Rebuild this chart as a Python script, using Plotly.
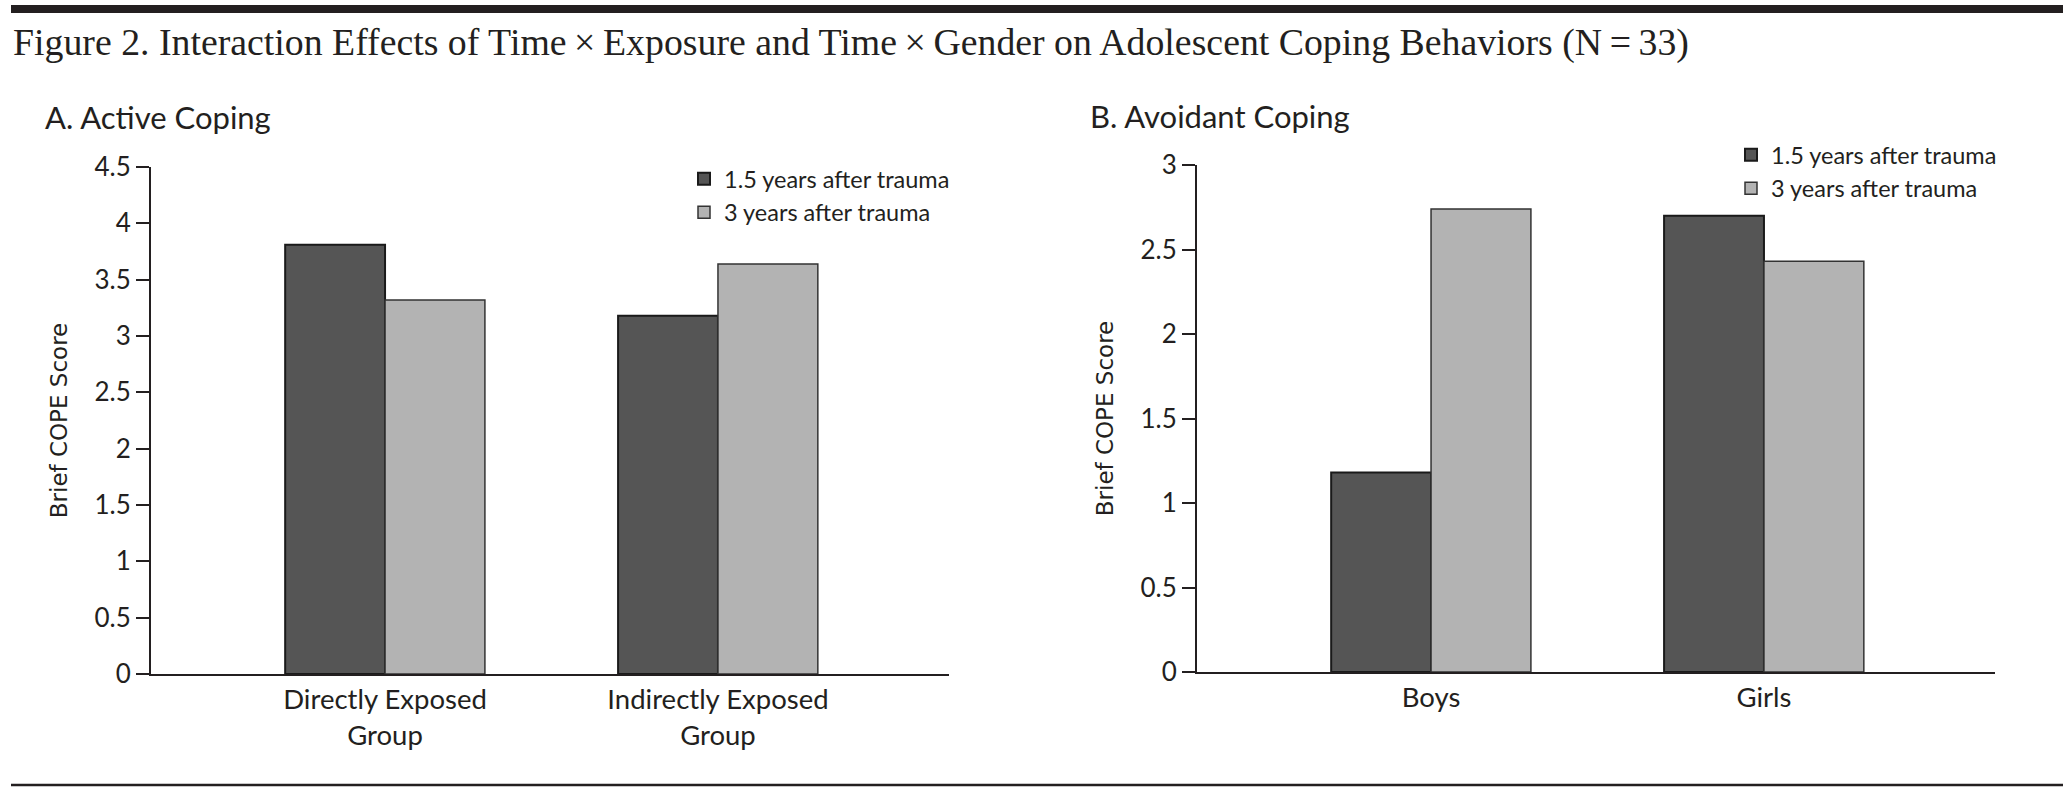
import plotly.graph_objects as go

# ---------------- data ----------------
series_names = ["1.5 years after trauma", "3 years after trauma"]

active_groups = ["Directly Exposed<br>Group", "Indirectly Exposed<br>Group"]
active_15y = [3.81, 3.18]
active_3y = [3.32, 3.64]

avoid_groups = ["Boys", "Girls"]
avoid_15y = [1.18, 2.70]
avoid_3y = [2.74, 2.43]

active_ticks = [0, 0.5, 1, 1.5, 2, 2.5, 3, 3.5, 4, 4.5]
avoid_ticks = [0, 0.5, 1, 1.5, 2, 2.5, 3]

# ---------------- styling ----------------
W, H = 2063, 792
DARK = "#555555"
LIGHT = "#b3b3b3"
INK = "#231f20"
SANS = "Lato, 'Noto Sans', sans-serif"
SERIF = "'Liberation Serif', 'DejaVu Serif', serif"


def px(x):
    return x / W


def py(y):
    return 1 - y / H


fig = go.Figure()

fig.add_trace(go.Bar(x=active_groups, y=active_15y, name=series_names[0],
                     marker=dict(color=DARK, line=dict(color="#1a1a1a", width=2)),
                     xaxis="x", yaxis="y", legend="legend"))
fig.add_trace(go.Bar(x=active_groups, y=active_3y, name=series_names[1],
                     marker=dict(color=LIGHT, line=dict(color="#333333", width=1.5)),
                     xaxis="x", yaxis="y", legend="legend"))
fig.add_trace(go.Bar(x=avoid_groups, y=avoid_15y, name=series_names[0],
                     marker=dict(color=DARK, line=dict(color="#1a1a1a", width=2)),
                     xaxis="x2", yaxis="y2", legend="legend2"))
fig.add_trace(go.Bar(x=avoid_groups, y=avoid_3y, name=series_names[1],
                     marker=dict(color=LIGHT, line=dict(color="#333333", width=1.5)),
                     xaxis="x2", yaxis="y2", legend="legend2"))

xcommon = dict(type="category", range=[-0.703, 1.694], showline=True,
               linecolor=INK, linewidth=2, ticks="", showgrid=False,
               zeroline=False, automargin=False,
               tickfont=dict(family=SANS, size=27.5, color=INK),
               fixedrange=True)
ycommon = dict(showline=True, linecolor=INK, linewidth=2, ticks="outside",
               ticklen=13, tickwidth=2, tickcolor=INK, showgrid=False,
               zeroline=False, automargin=False,
               tickfont=dict(family=SANS, size=26, color=INK),
               title=dict(text="Brief COPE Score",
                          font=dict(family="'DejaVu Sans', Verdana, sans-serif",
                                    size=23, color=INK),
                          standoff=20),
               fixedrange=True)

fig.update_layout(
    width=W, height=H, autosize=False,
    margin=dict(l=0, r=0, t=0, b=0, pad=0, autoexpand=False),
    paper_bgcolor="white", plot_bgcolor="white",
    barmode="group", bargap=0.4, bargroupgap=0,
    xaxis=dict(xcommon, domain=[px(151), px(949)], anchor="y"),
    yaxis=dict(ycommon, domain=[py(674), py(167)], anchor="x",
               range=[0, 4.5], tickvals=active_ticks,
               ticktext=[f"{v:g}" for v in active_ticks]),
    xaxis2=dict(xcommon, domain=[px(1197), px(1995)], anchor="y2"),
    yaxis2=dict(ycommon, domain=[py(672), py(165)], anchor="x2",
                range=[0, 3], tickvals=avoid_ticks,
                ticktext=[f"{v:g}" for v in avoid_ticks]),
    legend=dict(x=px(684), y=py(157), xanchor="left", yanchor="top",
                bgcolor="rgba(0,0,0,0)", borderwidth=0,
                font=dict(family=SANS, size=23.5, color=INK),
                traceorder="normal", tracegroupgap=0),
    legend2=dict(x=px(1731), y=py(133), xanchor="left", yanchor="top",
                 bgcolor="rgba(0,0,0,0)", borderwidth=0,
                 font=dict(family=SANS, size=23.5, color=INK),
                 traceorder="normal", tracegroupgap=0),
    showlegend=True,
)

# title & panel labels
fig.add_annotation(text="Figure 2. Interaction Effects of Time\u2009×\u2009Exposure and Time\u2009×\u2009Gender on Adolescent Coping Behaviors (N\u2009=\u200933)",
                   x=px(11), y=py(43), xref="paper", yref="paper",
                   xanchor="left", yanchor="middle", showarrow=False,
                   font=dict(family=SERIF, size=37.8, color=INK))
fig.add_annotation(text="A. Active Coping", x=px(43), y=py(117),
                   xref="paper", yref="paper", xanchor="left", yanchor="middle",
                   showarrow=False, font=dict(family=SANS, size=31, color=INK))
fig.add_annotation(text="B. Avoidant Coping", x=px(1088), y=py(116),
                   xref="paper", yref="paper", xanchor="left", yanchor="middle",
                   showarrow=False, font=dict(family=SANS, size=31, color=INK))

# rules
fig.add_shape(type="rect", xref="paper", yref="paper",
              x0=px(11), x1=1, y0=py(13), y1=py(5),
              fillcolor="#231f20", line=dict(width=0))
fig.add_shape(type="line", xref="paper", yref="paper",
              x0=px(11), x1=1, y0=py(785), y1=py(785),
              line=dict(color="#231f20", width=2.5))

# pin the figure to the top-left corner of the page (no margins / stray line boxes)
post_js = (
    "var st=document.createElement('style');"
    "st.textContent='html,body{margin:0;padding:0;overflow:hidden;width:2063px;height:792px;}"
    "body>div{font-size:0;line-height:0;margin:0;padding:0;}';"
    "document.head.appendChild(st);"
    "var gd=document.getElementById('{plot_id}');"
    "gd.style.position='fixed';gd.style.top='0px';gd.style.left='0px';gd.style.margin='0';"
)

fig.write_html("out.html", post_script=post_js,
               config={"displayModeBar": False, "responsive": False})
